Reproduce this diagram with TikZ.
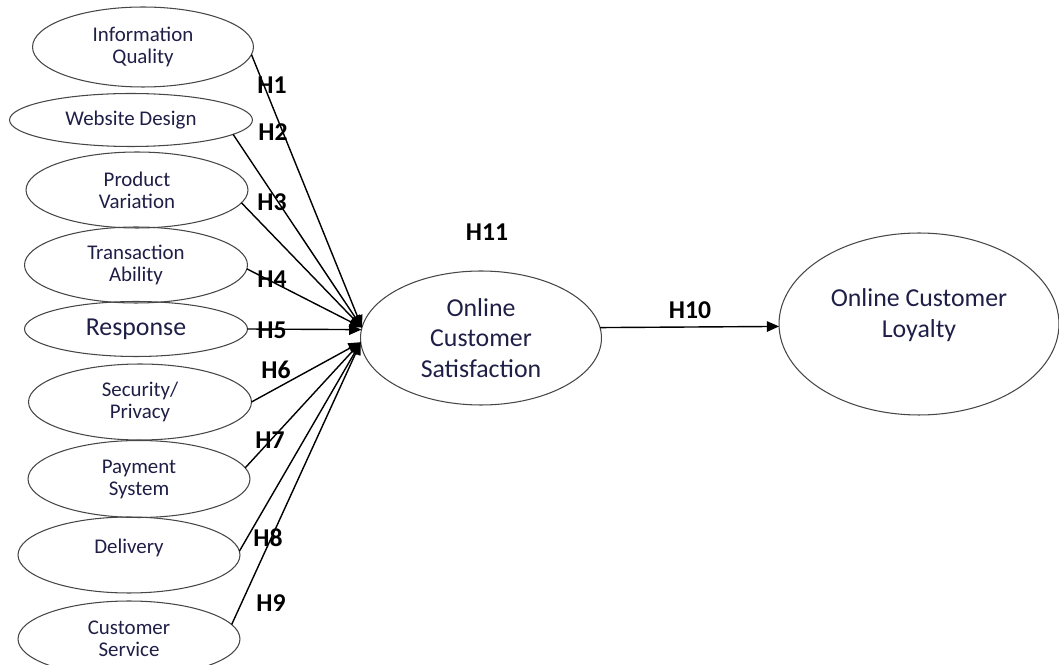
\documentclass[tikz,border=0pt]{standalone}
\usepackage{fontspec}
\setmainfont{Carlito}
\usetikzlibrary{arrows.meta,shapes.geometric}
\definecolor{ovalgray}{RGB}{70,70,70}
\definecolor{txtnavy}{RGB}{30,30,70}

\tikzset{
  oval/.style={ellipse, draw=ovalgray, line width=0.6pt, inner sep=0pt, outer sep=0pt, align=center, text=txtnavy},
  smalltxt/.style={font=\fontsize{11.9}{12.5}\selectfont},
  bigtxt/.style={font=\fontsize{14.7}{17.5}\selectfont},
  hyp/.style={font=\fontsize{14.6}{16}\selectfont\bfseries},
  link/.style={-{Triangle[length=7pt,width=6pt]}, line width=0.8pt},
}

\begin{document}
\begin{tikzpicture}[x=0.02cm, y=-0.02cm]
\useasboundingbox (0,0) rectangle (1059,665);
% Antecedents
\node[oval, smalltxt, minimum width=4.42cm, minimum height=1.6cm] (iq) at (143,47) {Information\\Quality};
\node[oval, smalltxt, minimum width=4.86cm, minimum height=1.06cm] (wd) at (131,120) {Website Design};
\node[oval, smalltxt, minimum width=4.44cm, minimum height=1.52cm] (pv) at (137,190) {Product\\Variation};
\node[oval, smalltxt, minimum width=4.46cm, minimum height=1.52cm] (ta) at (136,265) {Transaction\\Ability};
\node[oval, bigtxt, minimum width=4.46cm, minimum height=1.1cm] (rs) at (136,329) {Response};
\node[oval, smalltxt, minimum width=4.46cm, minimum height=1.52cm] (sp) at (140,402) {Security/\\Privacy};
\node[oval, smalltxt, minimum width=4.44cm, minimum height=1.54cm] (ps) at (139,479) {Payment\\System};
\node[oval, minimum width=4.44cm, minimum height=1.52cm,
  label={[smalltxt, text=txtnavy, yshift=4pt]center:Delivery}] (dl) at (129,555) {};
\node[oval, smalltxt, minimum width=4.44cm, minimum height=1.52cm] (cs) at (129,639) {Customer\\Service};

% Satisfaction and loyalty
\node[oval, bigtxt, minimum width=4.82cm, minimum height=2.68cm] (ocs) at (481,338) {Online\\Customer\\Satisfaction};
\node[oval, minimum width=5.6cm, minimum height=3.64cm,
  label={[bigtxt, text=txtnavy, align=center, yshift=5pt]center:Online Customer\\Loyalty}] (loy) at (919,324) {};

% Paths
\draw[link] (iq.-4) -- (ocs.175);
\draw[link] (wd.-8) -- (ocs.175);
\draw[link] (pv.-7) -- (ocs.175);
\draw[link] (ta.-2) -- (ocs.175);
\draw[link] (rs.east) -- (ocs.176);
\draw[link] (sp.east) -- (ocs.182);
\draw[link] (ps.6) -- (ocs.182);
\draw[link] (dl.2) -- (ocs.182);
\draw[link] (cs.8) -- (ocs.182);
\draw[link] (ocs.5) -- (loy.181.5);

% Hypotheses
\node[hyp] (h1) at (272,85) {H1};
\node[hyp] (h2) at (273,132) {H2};
\node[hyp] (h3) at (272,202) {H3};
\node[hyp] (h4) at (272,279) {H4};
\node[hyp] (h5) at (272,330) {H5};
\node[hyp] (h6) at (276,370) {H6};
\node[hyp] (h7) at (270,440) {H7};
\node[hyp] (h8) at (268,538) {H8};
\node[hyp] (h9) at (271,603) {H9};
\node[hyp] (h10) at (690,310) {H10};
\node[hyp] (h11) at (487,232) {H11};
\end{tikzpicture}
\end{document}
